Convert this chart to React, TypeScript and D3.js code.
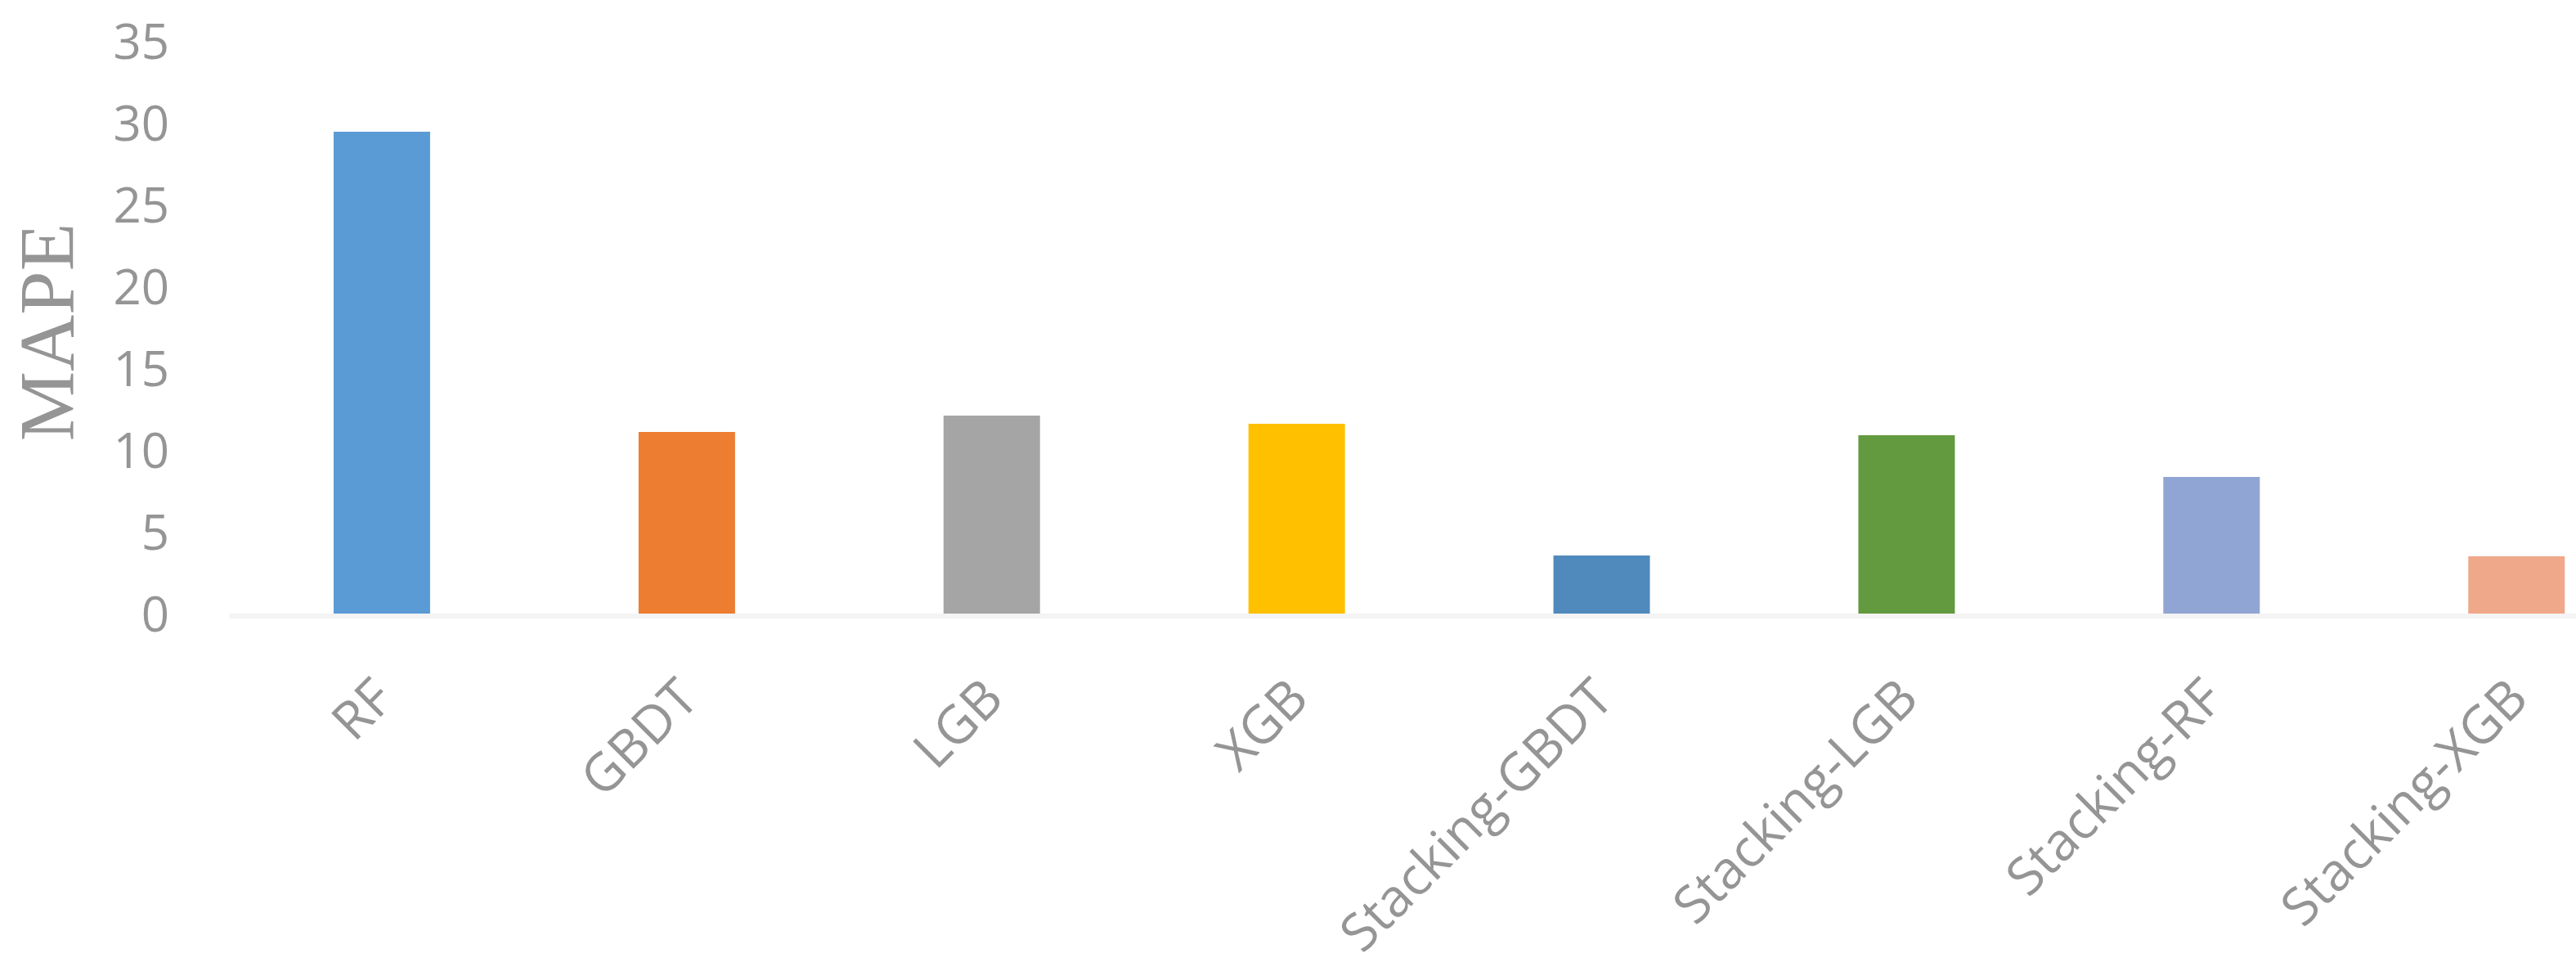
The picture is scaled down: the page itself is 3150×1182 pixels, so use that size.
import React, { useEffect, useRef } from "react";
import * as d3 from "d3";

const categories = [
  "RF",
  "GBDT",
  "LGB",
  "XGB",
  "Stacking-GBDT",
  "Stacking-LGB",
  "Stacking-RF",
  "Stacking-XGB",
];
const mape = [29.45, 11.1, 12.1, 11.6, 3.55, 10.9, 8.35, 3.5];
const barColors = [
  "#5B9BD5",
  "#ED7D31",
  "#A5A5A5",
  "#FFC000",
  "#508ABD",
  "#639A3F",
  "#91A5D4",
  "#F0A88A",
];
const yTicks = [0, 5, 10, 15, 20, 25, 30, 35];

export default function App() {
  const ref = useRef<SVGSVGElement>(null);

  useEffect(() => {
    const svg = d3.select(ref.current);
    svg.selectAll("*").remove(); // clear previous chart

    const width = 3150,
      height = 1182;
    const step = 372.9;
    const left = 280.5;
    const textColor = "#959595";
    const sans = "'Open Sans', 'Noto Sans', sans-serif";

    svg.attr("width", width).attr("height", height);

    const x = d3
      .scaleBand()
      .domain(categories)
      .range([left, left + step * categories.length])
      .paddingInner(0.6836)
      .paddingOuter(0.3418);

    const y = d3.scaleLinear().domain([0, 35]).range([750, 50]);

    // category axis line
    svg
      .append("rect")
      .attr("x", left)
      .attr("y", y(0))
      .attr("width", width - left)
      .attr("height", 6)
      .attr("fill", "#F4F4F4");

    svg
      .append("g")
      .selectAll("rect")
      .data(mape)
      .enter()
      .append("rect")
      .attr("x", (d, i) => x(categories[i]))
      .attr("y", (d) => y(d))
      .attr("width", x.bandwidth())
      .attr("height", (d) => y(0) - y(d))
      .attr("fill", (d, i) => barColors[i]);

    // y tick labels
    svg
      .append("g")
      .selectAll("text")
      .data(yTicks)
      .enter()
      .append("text")
      .attr("x", 207)
      .attr("y", (d) => y(d))
      .attr("dy", "0.36em")
      .attr("text-anchor", "end")
      .attr("font-family", sans)
      .attr("font-size", 60)
      .attr("fill", textColor)
      .text((d) => d);

    // x labels, rotated
    svg
      .append("g")
      .selectAll("text")
      .data(categories)
      .enter()
      .append("text")
      .attr("transform", (d) => {
        const cx = x(d) + x.bandwidth() / 2;
        return `translate(${cx},840) rotate(-45)`;
      })
      .attr("dominant-baseline", "central")
      .attr("text-anchor", "end")
      .attr("font-family", sans)
      .attr("font-size", 64)
      .attr("fill", textColor)
      .text((d) => d);

    // y axis title
    svg
      .append("text")
      .attr("transform", "translate(90,406) rotate(-90)")
      .attr("text-anchor", "middle")
      .attr("font-family", "'Liberation Serif', 'Times New Roman', serif")
      .attr("font-size", 96)
      .attr("fill", textColor)
      .text("MAPE");
  }, []);

  return (
    <div style={{ position: "absolute", left: 0, top: 0, background: "#fff" }}>
      <svg ref={ref} style={{ display: "block" }}></svg>
    </div>
  );
}
